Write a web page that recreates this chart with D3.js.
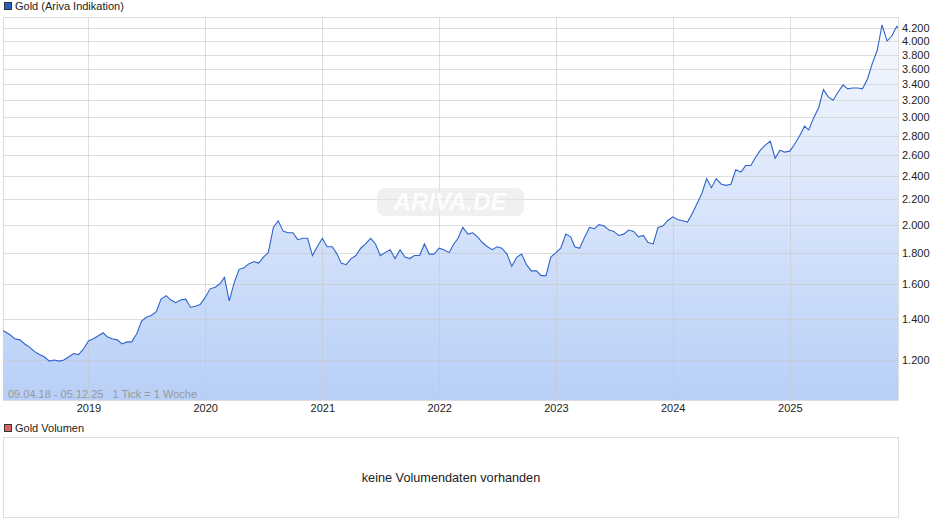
<!DOCTYPE html>
<html><head><meta charset="utf-8">
<script src="https://cdn.jsdelivr.net/npm/d3@7"></script>
<style>body{margin:0;background:#fff;font-family:"Liberation Sans",Arial,sans-serif}</style>
</head><body><svg id="chart"></svg>
<script>
// half-monthly closes (1st, 16th), USD
const gold2018 = [1340,1335,1320,1300,1295,1275,1260,1240,1225,1215,1195,1200,1195,1200,1215,1230,1225,1250]; // from Apr
const gold2019 = [1290,1300,1315,1330,1310,1300,1295,1275,1285,1285,1325,1390,1410,1420,1440,1510,1530,1505,1490,1505,1510,1465,1470,1480];
const gold2020 = [1520,1570,1580,1600,1640,1500,1610,1690,1700,1725,1740,1730,1770,1800,1980,2030,1950,1940,1940,1890,1900,1900,1780,1840];
const gold2021 = [1900,1840,1840,1790,1730,1720,1760,1780,1830,1860,1900,1860,1780,1800,1820,1760,1820,1770,1760,1780,1780,1860,1790,1790];
const gold2022 = [1830,1820,1800,1860,1900,1980,1930,1940,1910,1870,1840,1820,1840,1830,1790,1710,1770,1790,1720,1680,1680,1650,1650,1770];
const gold2023 = [1800,1830,1930,1910,1840,1830,1910,1980,1970,2000,1990,1960,1950,1920,1930,1960,1950,1910,1920,1870,1860,1980,1990,2030];
const gold2024 = [2060,2040,2030,2020,2080,2160,2250,2380,2300,2380,2330,2320,2330,2460,2440,2500,2500,2580,2650,2700,2740,2570,2650,2630];
const gold2025 = [2640,2710,2800,2900,2860,2990,3110,3330,3240,3200,3300,3390,3340,3350,3350,3340,3470,3680,3860,4250,4000,4080,4230];
const lastClose = 4200; // 05.12.25
const yTicks = [1200,1400,1600,1800,2000,2200,2400,2600,2800,3000,3200,3400,3600,3800,4000,4200];
const years = [2019,2020,2021,2022,2023,2024,2025];

const data = [];
[[2018,gold2018,3],[2019,gold2019,0],[2020,gold2020,0],[2021,gold2021,0],[2022,gold2022,0],[2023,gold2023,0],[2024,gold2024,0],[2025,gold2025,0]]
  .forEach(([y, vals, m0]) => vals.forEach((v, i) => {
    let d = new Date(y, m0 + Math.floor(i / 2), i % 2 ? 16 : 1);
    if (y === 2018 && i === 0) d = new Date(2018, 3, 9);
    data.push({date: d, value: v});
  }));
data.push({date: new Date(2025, 11, 5), value: lastClose});

const width = 940, height = 526;
const plot = {left: 3, right: 898, top: 17, bottom: 400};
const fmt = d3.format(",");
const de = v => fmt(v).replace(/,/g, ".");

const svg = d3.select("#chart").attr("width", width).attr("height", height);
const x = d3.scaleTime().domain([new Date(2018, 3, 9), new Date(2025, 11, 5)]).range([plot.left, plot.right]);
const y = d3.scaleLog().domain([1032, 4380]).range([plot.bottom, plot.top]);

const grad = svg.append("defs").append("linearGradient").attr("id", "fillGrad")
  .attr("x1", 0).attr("y1", 0).attr("x2", 0).attr("y2", 1);
grad.append("stop").attr("offset", "0%").attr("stop-color", "#f6f9fe");
grad.append("stop").attr("offset", "100%").attr("stop-color", "#b8cff7");

// frame
svg.append("rect").attr("x", plot.left + 0.5).attr("y", plot.top + 0.5)
  .attr("width", plot.right - plot.left).attr("height", plot.bottom - plot.top)
  .attr("fill", "#fff").attr("stroke", "#ddd");

svg.append("clipPath").attr("id", "clip").append("rect")
  .attr("x", plot.left).attr("y", plot.top).attr("width", plot.right - plot.left).attr("height", plot.bottom - plot.top);

svg.append("path").datum(data).attr("clip-path", "url(#clip)")
  .attr("fill", "url(#fillGrad)")
  .attr("d", d3.area().x(d => x(d.date)).y0(plot.bottom).y1(d => y(d.value)));

// grid
svg.append("g").selectAll("line").data(yTicks).join("line")
  .attr("x1", plot.left).attr("x2", plot.right)
  .attr("y1", d => Math.round(y(d)) + 0.5).attr("y2", d => Math.round(y(d)) + 0.5)
  .attr("stroke", "#c8c8c8").attr("stroke-opacity", 0.6);
svg.append("g").selectAll("line").data(years).join("line")
  .attr("y1", plot.top).attr("y2", plot.bottom)
  .attr("x1", d => Math.round(x(new Date(d, 0, 1))) + 0.5).attr("x2", d => Math.round(x(new Date(d, 0, 1))) + 0.5)
  .attr("stroke", "#c8c8c8").attr("stroke-opacity", 0.6);

// watermark
svg.append("rect").attr("x", 377).attr("y", 188).attr("width", 147).attr("height", 28).attr("rx", 8)
  .attr("fill", "#e6e6e6").attr("opacity", 0.6);
svg.append("text").attr("x", 450).attr("y", 210).attr("text-anchor", "middle")
  .attr("font-size", 24).attr("font-style", "italic").attr("font-weight", "bold")
  .attr("fill", "#fff").attr("opacity", 0.9).text("ARIVA.DE");

svg.append("path").datum(data).attr("clip-path", "url(#clip)")
  .attr("fill", "none").attr("stroke", "#2f63cc").attr("stroke-width", 1.1)
  .attr("d", d3.line().x(d => x(d.date)).y(d => y(d.value)));

// axes
const yAxis = svg.append("g").attr("transform", `translate(${plot.right + 1},0)`)
  .call(d3.axisRight(y).tickValues(yTicks).tickFormat(de).tickSize(0).tickPadding(3));
yAxis.select(".domain").remove();
yAxis.selectAll("text").attr("font-size", 11).attr("fill", "#222").attr("font-family", "Liberation Sans, Arial");

const xAxis = svg.append("g").attr("transform", `translate(0,${plot.bottom})`)
  .call(d3.axisBottom(x).tickValues(years.map(d => new Date(d, 0, 1))).tickFormat(d3.timeFormat("%Y")).tickSize(0).tickPadding(4));
xAxis.select(".domain").remove();
xAxis.selectAll("text").attr("font-size", 11).attr("fill", "#222").attr("font-family", "Liberation Sans, Arial");

svg.append("text").attr("x", 8).attr("y", 398).attr("font-size", 11).attr("fill", "#999")
  .style("white-space", "pre").text("09.04.18 - 05.12.25   1 Tick = 1 Woche");

// legends
svg.append("rect").attr("x", 4.5).attr("y", 2.5).attr("width", 7).attr("height", 7).attr("fill", "#2b5cc0").attr("stroke", "#333");
svg.append("text").attr("x", 15).attr("y", 10).attr("font-size", 11).attr("fill", "#222").text("Gold (Ariva Indikation)");
svg.append("rect").attr("x", 4.5).attr("y", 424.5).attr("width", 7).attr("height", 7).attr("fill", "#e06060").attr("stroke", "#333");
svg.append("text").attr("x", 15).attr("y", 432).attr("font-size", 11).attr("fill", "#222").text("Gold Volumen");

// volume panel
svg.append("rect").attr("x", plot.left + 0.5).attr("y", 437.5).attr("width", plot.right - plot.left).attr("height", 80)
  .attr("fill", "#fff").attr("stroke", "#ddd");
svg.append("text").attr("x", 451).attr("y", 482).attr("text-anchor", "middle").attr("font-size", 12.7).attr("fill", "#222")
  .text("keine Volumendaten vorhanden");
</script></body></html>
